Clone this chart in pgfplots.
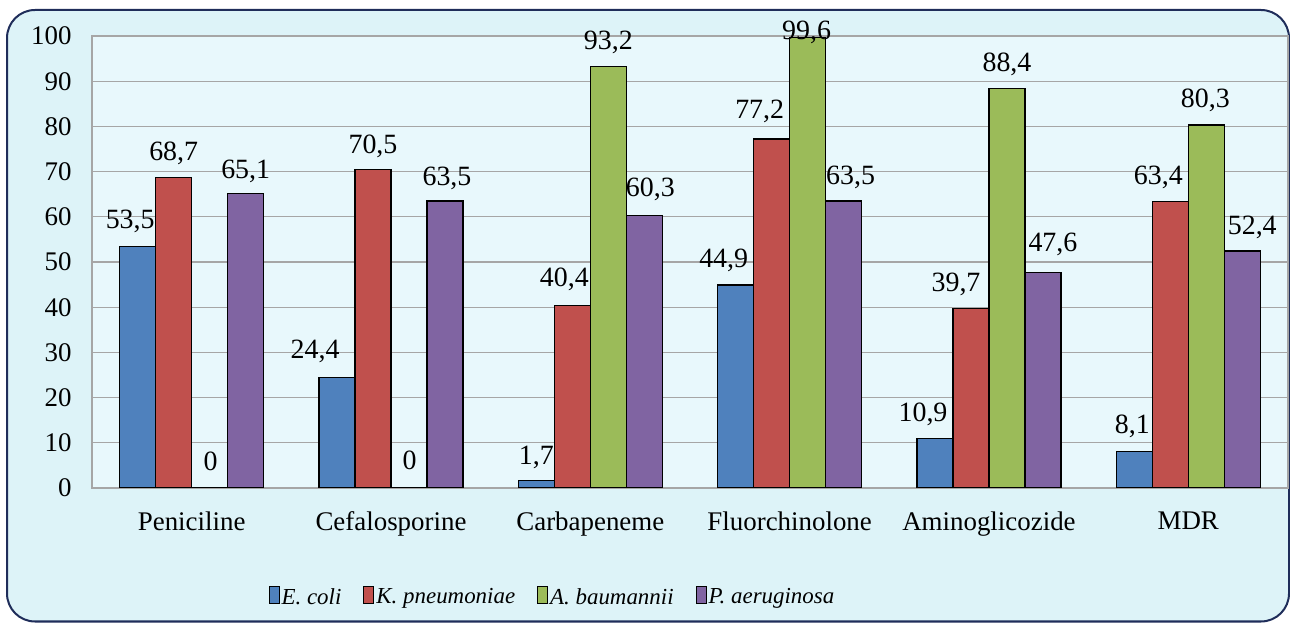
\documentclass[border=0pt]{standalone}
\usepackage{fontspec}
\setmainfont{Liberation Serif}
\usepackage{pgfplots}
\usepackage{pgfplotstable}
\pgfplotsset{compat=1.18}
\definecolor{outerbg}{HTML}{DDF3F8}
\definecolor{plotbg}{HTML}{E8F8FC}
\definecolor{navy}{HTML}{1F2D5A}
\definecolor{gridc}{HTML}{A6A6A6}
\definecolor{cblue}{HTML}{4F81BD}
\definecolor{cred}{HTML}{C0504D}
\definecolor{cgreen}{HTML}{9BBB59}
\definecolor{cpurple}{HTML}{8064A2}
\pgfplotsset{mylegend/.style={legend image code/.code={\draw[##1,line width=1bp] (0bp,-7bp) rectangle (10bp,10bp);}}}
% x = category index, y = value, dx/dy = label offsets (pt)
\pgfplotstableread{
x y dx dy
0 53.5 -7.5 9
1 24.4 -22 11
2 1.7 0 8
3 44.9 -12 9
4 10.9 -12 9
5 8.1 -2 10
}\ecoli
\pgfplotstableread{
x y dx dy
0 68.7 0 9
1 70.5 0 8
2 40.4 -8 11
3 77.2 -12 12
4 39.7 -15 9
5 63.4 -12 9
}\kpneu
\pgfplotstableread{
x y dx dy
0 0 1 13
1 0 0.5 14
2 93.2 0 9
3 99.6 -1 -10
4 88.4 0 9
5 80.3 -1 9
}\abau
\pgfplotstableread{
x y dx dy
0 65.1 0 7
1 63.5 2 7
2 60.3 6 11
3 63.5 7 8
4 47.6 10 13
5 52.4 10 8
}\paer
\begin{document}
\begin{tikzpicture}
\useasboundingbox (0,0) rectangle (1290bp,623bp);
\draw[draw=navy, line width=2bp, fill=outerbg, rounded corners=28bp] (7bp,1.5bp) rectangle (1289bp,613bp);
\begin{axis}[
  at={(92bp,135bp)}, anchor=south west,
  scale only axis, width=1196bp, height=452bp,
  ybar=0pt, bar width=36bp,
  xmin=-0.5, xmax=5.5, ymin=0, ymax=100,
  xtick={0,...,5},
  xticklabels={Peniciline,Cefalosporine,Carbapeneme,Fluorchinolone,Aminoglicozide,MDR},
  ytick={0,10,...,100},
  major tick length=0pt,
  ymajorgrids, major grid style={color=gridc, line width=1.3bp},
  axis line style={color=gridc, line width=1.3bp},
  axis background/.style={fill=plotbg},
  /pgf/number format/assume math mode=true,
  ticklabel style={font=\fontsize{27}{27}\selectfont},
  yticklabel style={xshift=-17bp},
  xticklabel style={yshift=-20bp},
  visualization depends on={\thisrow{dx} \as \labdx},
  visualization depends on={\thisrow{dy} \as \labdy},
  nodes near coords,
  nodes near coords style={font=\fontsize{28}{28}\selectfont, /pgf/number format/use comma, /pgf/number format/fixed, /pgf/number format/precision=1, /pgf/number format/assume math mode=true},
  every node near coord/.append style={xshift=\labdx pt, yshift=\labdy pt},
  legend style={at={(0.385,-0.241)}, anchor=center, draw=none, fill=none,
    font=\fontsize{23}{23}\selectfont\itshape, legend columns=4,
    /tikz/every even column/.append style={column sep=20bp},
    /tikz/every odd column/.append style={column sep=0bp}},
  legend cell align=left,
]
\addplot[fill=cblue, draw=black, line width=1.3bp, mylegend] table[x=x,y=y] {\ecoli};
\addplot[fill=cred, draw=black, line width=1.3bp, mylegend] table[x=x,y=y] {\kpneu};
\addplot[fill=cgreen, draw=black, line width=1.3bp, mylegend] table[x=x,y=y] {\abau};
\addplot[fill=cpurple, draw=black, line width=1.3bp, mylegend] table[x=x,y=y] {\paer};
\legend{E. coli, K. pneumoniae, A. baumannii, P. aeruginosa}
\end{axis}
\end{tikzpicture}
\end{document}
